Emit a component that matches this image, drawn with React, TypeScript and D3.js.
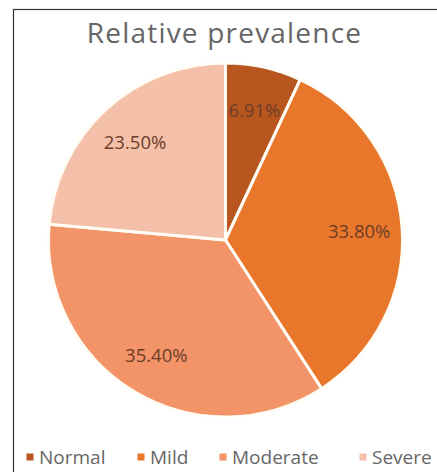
import React from "react";
import * as d3 from "d3";

const categories = ["Normal", "Mild", "Moderate", "Severe"];
const values = [6.91, 33.8, 35.4, 23.5];
const labels = ["6.91%", "33.80%", "35.40%", "23.50%"];
const colors = ["#b8561f", "#e8772b", "#f29467", "#f5c0aa"];
const title = "Relative prevalence";

const W = 437;
const H = 472;
const cx = 225.5;
const cy = 240;
const R = 177;
const labelR = 134;

export default function App() {
  const pie = d3
    .pie<number>()
    .value((d) => d)
    .sort(null)
    .startAngle(0)
    .endAngle(2 * Math.PI);
  const arcs = pie(values);
  const arcGen = d3.arc<d3.PieArcDatum<number>>().innerRadius(0).outerRadius(R);
  const labelArc = d3.arc<d3.PieArcDatum<number>>().innerRadius(labelR).outerRadius(labelR);

  const legendX = [30, 141, 223, 363];

  return (
    <svg
      width={W}
      height={H}
      style={{ position: "absolute", left: 0, top: 0, background: "#fff" }}
      fontFamily="'Open Sans', sans-serif"
    >
      <rect x={13.5} y={9.5} width={W + 20} height={H + 20} fill="#fff" stroke="#333" strokeWidth={1.2} />
      <text x={224.5} y={43} textAnchor="middle" fontSize={28} letterSpacing={1.2} fill="#666">
        {title}
      </text>
      <g transform={`translate(${cx},${cy})`}>
        {arcs.map((a, i) => (
          <path key={categories[i]} d={arcGen(a) || ""} fill={colors[i]} stroke="#fffdf5" strokeWidth={3} strokeLinejoin="round" />
        ))}
        {arcs.map((a, i) => {
          const [x, y] = labelArc.centroid(a);
          return (
            <text key={"l" + i} x={x} y={y} textAnchor="middle" dominantBaseline="central" fontSize={18.5} fill="#6e3d27">
              {labels[i]}
            </text>
          );
        })}
      </g>
      <g>
        {categories.map((c, i) => (
          <g key={c} transform={`translate(${legendX[i]},457)`}>
            <rect x={-3.5} y={-3.5} width={7} height={7} fill={colors[i]} />
            <text x={9} y={0} dominantBaseline="central" fontSize={19} fill="#666">
              {c}
            </text>
          </g>
        ))}
      </g>
    </svg>
  );
}
